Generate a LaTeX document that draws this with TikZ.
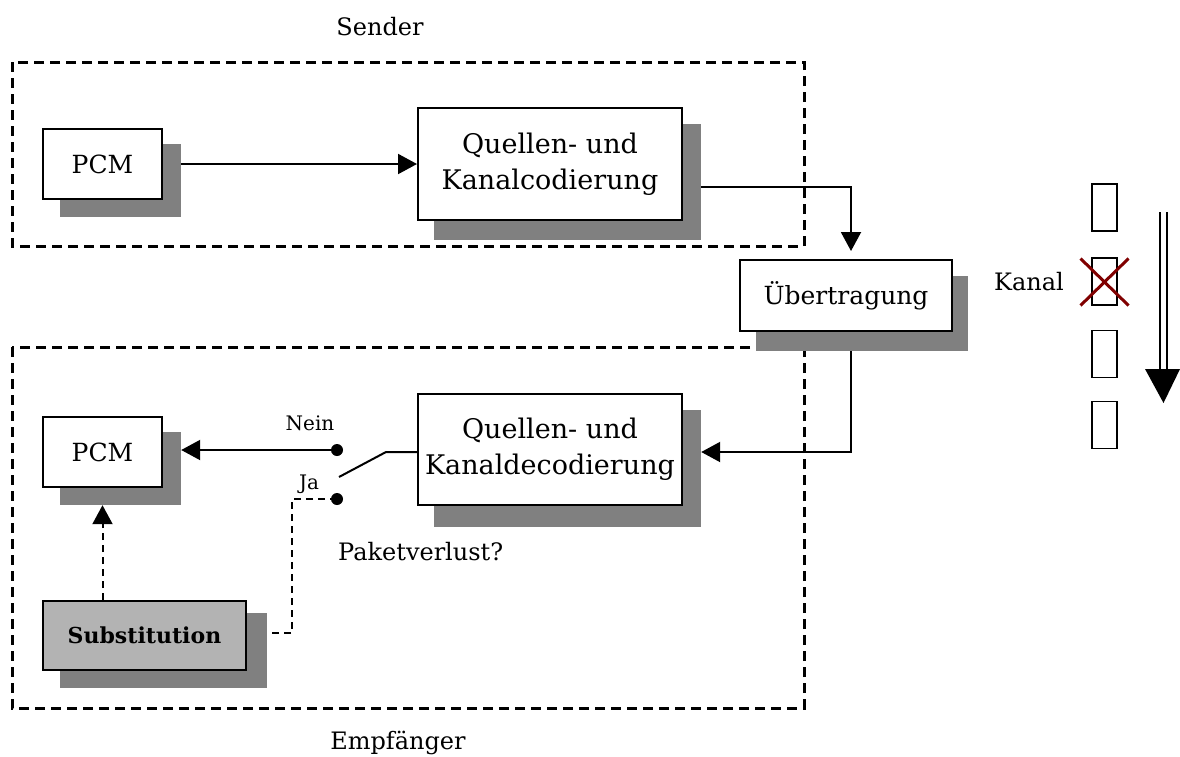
\documentclass[tikz,border=0pt]{standalone}
\usepackage{fontspec}
\setmainfont{DejaVu Serif}
\usetikzlibrary{arrows.meta,calc}
\definecolor{shadowgray}{HTML}{808080}
\definecolor{subgray}{HTML}{B3B3B3}
\definecolor{crossred}{HTML}{800000}
\tikzset{
  mainbox/.style={draw=black, line width=2pt, fill=white, inner sep=0pt, align=center, font=\fontsize{25}{31}\selectfont},
  bigtext/.style={font=\fontsize{27}{36}\selectfont},
  shadowbox/.style={fill=shadowgray, draw=none, inner sep=0pt},
  groupbox/.style={draw=black, line width=3pt, dash pattern=on 10pt off 6pt},
  conn/.style={line width=2pt},
  arr/.style={line width=2pt, -{Triangle[length=19pt,width=20pt]}},
  dconn/.style={line width=2pt, dash pattern=on 7pt off 5pt},
  lbl/.style={inner sep=0pt, font=\fontsize{24}{29}\selectfont},
  smalllbl/.style={inner sep=0pt, font=\fontsize{20}{24}\selectfont},
  dot/.style={circle, fill=black, inner sep=0pt, minimum size=12pt},
  slot/.style={draw=black, line width=1.5pt, minimum width=25pt, minimum height=47pt, inner sep=0pt}
}
\begin{document}
\begin{tikzpicture}[x=1pt,y=-1pt]
\useasboundingbox (0,0) rectangle (1180,756);

% group boxes
\draw[groupbox] (12,62) rectangle (804,246);
\draw[groupbox] (12,347) rectangle (804,708);
\node[lbl] (sender) at (380,27) {Sender};
\node[lbl] (empf) at (398,743) {Empfänger};

% shadows
\node[shadowbox, minimum width=121pt, minimum height=73pt] (pcm1s) at (120.5,180.5) {};
\node[shadowbox, minimum width=267pt, minimum height=116pt] (q1s) at (567.5,182) {};
\node[shadowbox, minimum width=212pt, minimum height=75pt] (ues) at (862,313.5) {};
\node[shadowbox, minimum width=267pt, minimum height=117pt] (q2s) at (567.5,468.5) {};
\node[shadowbox, minimum width=121pt, minimum height=73pt] (pcm2s) at (120.5,468.5) {};
\node[shadowbox, minimum width=207pt, minimum height=75pt] (subs) at (163.5,650.5) {};

% boxes
\node[mainbox, minimum width=119pt, minimum height=70pt] (pcm1) at (102.5,164) {PCM};
\node[mainbox, bigtext, minimum width=264pt, minimum height=112pt] (q1) at (550,164) {Quellen- und\\Kanalcodierung};
\node[mainbox, minimum width=212pt, minimum height=71pt] (ue) at (846,295.5) {Übertragung};
\node[mainbox, bigtext, minimum width=264pt, minimum height=111pt] (q2) at (550,449.5) {Quellen- und\\Kanaldecodierung};
\node[mainbox, minimum width=119pt, minimum height=70pt] (pcm2) at (102.5,452) {PCM};
\node[mainbox, fill=subgray, font=\fontsize{22}{27}\selectfont, minimum width=203pt, minimum height=69pt] (sub) at (144.5,635.5) {\textbf{Substitution}};

% sender connectors
\draw[arr] (pcm1s.east |- pcm1.center) -- (q1.west |- pcm1.center);
\coordinate (c1) at (851,187);
\draw[arr, shorten >=8pt] (q1s.east |- c1) -- (c1) -- (c1 |- ue.north);

% channel to receiver
\coordinate (c2a) at (851,351);
\coordinate (c2) at (851,452);
\draw[arr] (c2a) -- (c2) -- (q2s.east |- c2);

% switch
\coordinate (sw1) at (386,452);
\coordinate (sw2) at (339,477);
\draw[conn] (q2.west |- sw1) -- (sw1) -- (sw2);
\node[dot] (nein) at (337,450) {};
\node[dot] (ja) at (337,499) {};
\node[smalllbl] (neinl) at (310,423) {Nein};
\node[smalllbl] (jal) at (309,484) {Ja};
\node[lbl, anchor=west] (pv) at (338,552) {Paketverlust?};
\draw[arr] (nein.center) -- (pcm2s.east |- nein.center);

% dashed path from Ja to Substitution
\coordinate (d1) at (292,499);
\coordinate (d2) at (292,633);
\draw[dconn] (ja.center) -- (d1) -- (d2) -- (subs.east |- d2);
\draw[dconn, -{Triangle[length=19pt,width=20pt]}] (pcm2.center |- sub.north) -- (pcm2.center |- pcm2s.south);

% channel
\node[lbl] (kanal) at (1029,282) {Kanal};
\node[slot] (k1) at (1104.5,207.5) {};
\node[slot] (k2) at (1104.5,281.5) {};
\node[slot] (k3) at (1104.5,354) {};
\node[slot] (k4) at (1104.5,425) {};
\draw[crossred, line width=3pt] ($(k2.center)+(-24,24)$) -- ($(k2.center)+(24,-23)$);
\draw[crossred, line width=3pt] ($(k2.center)+(-24,-23)$) -- ($(k2.center)+(24,24)$);

% time arrow
\draw[line width=1.5pt] (1160,212) -- (1160,372);
\draw[line width=1.5pt] (1167,212) -- (1167,372);
\fill[black] (1145,369) -- (1180,369) -- (1163.5,403) -- cycle;
\end{tikzpicture}
\end{document}
